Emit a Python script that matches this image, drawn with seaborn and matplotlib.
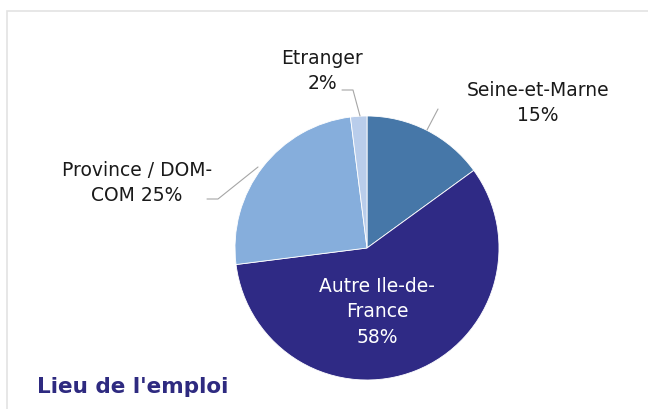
import matplotlib
matplotlib.use("Agg")
import matplotlib.pyplot as plt
import seaborn as sns
from matplotlib.patches import Rectangle

# data
lieux = ["Seine-et-Marne", "Autre Ile-de-France", "Province / DOM-COM", "Etranger"]
parts = [15, 58, 25, 2]
couleurs = ["#4677A8", "#2F2A85", "#86AEDC", "#B9CDEB"]

sns.set_theme(style="white")
plt.rcParams['font.family'] = ['DejaVu Sans']

fig = plt.figure(figsize=(6.48, 4.10), dpi=100)
ax = fig.add_axes([0, 0, 1, 1])

# pixel based coordinates (y going down like the picture)
H = 410
def py(y):
    return H - y

wedges, _ = ax.pie(parts, colors=couleurs, startangle=90, counterclock=False,
                   center=(367, py(249)), radius=132,
                   wedgeprops=dict(linewidth=0.6, edgecolor="white"))
ax.set_xlim(0, 648)
ax.set_ylim(0, H)
ax.set_aspect("auto")
ax.axis("off")

# outer frame
ax.add_patch(Rectangle((7, py(700)), 900, 700 - 12, fill=False,
                       edgecolor="#E3E3E3", linewidth=1.2, clip_on=False))

fs = 13.5
ls = 1.42
lc = "#A6A6A6"
tc = "#1A1A1A"

# Etranger
ax.text(322, py(71), "Etranger\n" + str(parts[3]) + "%", ha="center", va="center",
        fontsize=fs, color=tc, linespacing=ls)
ax.plot([342, 353, 360], [py(91), py(91), py(117)], color=lc, lw=0.8)

# Seine-et-Marne
ax.text(538, py(103), "Seine-et-Marne\n" + str(parts[0]) + "%", ha="center", va="center",
        fontsize=fs, color=tc, linespacing=ls)
ax.plot([438, 427], [py(110), py(131)], color=lc, lw=0.8)

# Province
ax.text(137, py(183), "Province / DOM-\nCOM " + str(parts[2]) + "%", ha="center", va="center",
        fontsize=fs, color=tc, linespacing=ls)
ax.plot([207, 218, 258], [py(200), py(200), py(168)], color=lc, lw=0.8)

# Autre Ile-de-France
ax.text(377, py(312), "Autre Ile-de-\nFrance\n" + str(parts[1]) + "%", ha="center", va="center",
        fontsize=fs, color="white", linespacing=ls)

ax.text(37, py(387), "Lieu de l'emploi", ha="left", va="center",
        fontsize=15.5, fontweight="bold", color="#2E2A80")

fig.savefig("out.png", dpi=100)
